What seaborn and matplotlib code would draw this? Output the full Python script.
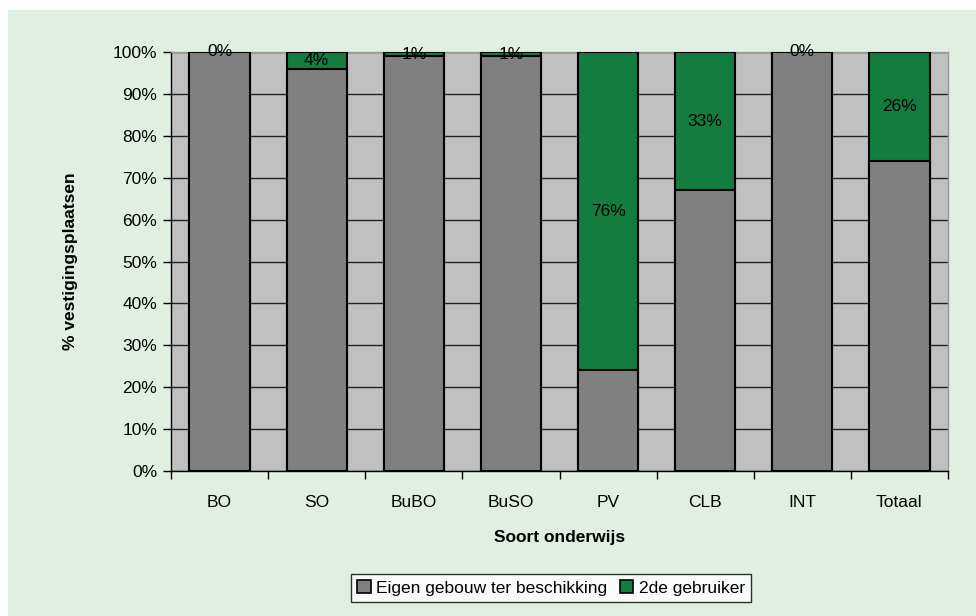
import matplotlib
matplotlib.use("Agg")
import matplotlib.pyplot as plt
from matplotlib.patches import Rectangle, Patch
from matplotlib.ticker import FixedLocator, PercentFormatter
import seaborn as sns
import pandas as pd
import numpy as np

categories = ["BO", "SO", "BuBO", "BuSO", "PV", "CLB", "INT", "Totaal"]
eigen_gebouw = [100, 96, 99, 99, 24, 67, 100, 74]
tweede_gebruiker = [0, 4, 1, 1, 76, 33, 0, 26]

series_names = ["Eigen gebouw ter beschikking", "2de gebruiker"]
grey = "#808080"
green = "#137c3e"
panel = "#e1efe3"

sns.set_theme(style="white")
plt.rcParams["font.family"] = ["Liberation Sans Narrow", "Liberation Sans", "DejaVu Sans"]
plt.rcParams["text.color"] = "black"
plt.rcParams["axes.labelcolor"] = "black"
plt.rcParams["xtick.color"] = "black"
plt.rcParams["ytick.color"] = "black"

df = pd.DataFrame({
    "soort": categories,
    "eigen": eigen_gebouw,
    "tweede": tweede_gebruiker,
})
df["totaal"] = df["eigen"] + df["tweede"]

fig = plt.figure(figsize=(9.76, 6.16), dpi=100, facecolor="white")
fig.patches.append(Rectangle((8 / 976, 0), 1, 1 - 10 / 616, transform=fig.transFigure,
                             facecolor=panel, edgecolor="none", zorder=-10))

ax = fig.add_axes([171 / 976, 1 - 471 / 616, (948 - 171) / 976, (471 - 52) / 616])
ax.set_zorder(1)
ax.set_facecolor("#c0c0c0")

# stacked bars: full-height green first, grey share drawn over it
sns.barplot(data=df, x="soort", y="totaal", color=green, saturation=1, width=0.62,
            edgecolor="black", linewidth=1.5, ax=ax, zorder=3)
sns.barplot(data=df, x="soort", y="eigen", color=grey, saturation=1, width=0.62,
            edgecolor="black", linewidth=1.5, ax=ax, zorder=4)

fs = 12.5

# value labels in the middle of the green segments
for i, (own, second) in enumerate(zip(df["eigen"], df["tweede"])):
    ax.text(i, own + second / 2, f"{second}%", ha="center", va="center",
            fontsize=fs, color="black", zorder=6)

ax.set_ylim(0, 100)
ax.set_xlim(-0.5, len(categories) - 0.5)
ax.yaxis.set_major_locator(FixedLocator(np.arange(0, 101, 10)))
ax.yaxis.set_major_formatter(PercentFormatter(decimals=0))
ax.grid(axis="y", color="#222222", linewidth=1.0, zorder=1)
ax.set_axisbelow(True)

ax.xaxis.set_minor_locator(FixedLocator(np.arange(-0.5, len(categories), 1)))
ax.tick_params(axis="x", which="major", length=0, pad=17, labelsize=fs)
ax.tick_params(axis="x", which="minor", length=6, width=1, color="black", direction="out",
               bottom=True)
ax.tick_params(axis="y", which="major", length=6, width=1, color="black", direction="out",
               left=True, labelsize=fs, pad=4)

for side in ["top", "right"]:
    ax.spines[side].set_color("#999999")
    ax.spines[side].set_linewidth(1.0)
for side in ["left", "bottom"]:
    ax.spines[side].set_color("black")
    ax.spines[side].set_linewidth(1.0)

ax.set_xlabel("Soort onderwijs", fontsize=fs, fontweight="bold", labelpad=15)
ax.set_ylabel("% vestigingsplaatsen", fontsize=fs, fontweight="bold", labelpad=25)

handles = [Patch(facecolor=grey, edgecolor="black", linewidth=1.2),
           Patch(facecolor=green, edgecolor="black", linewidth=1.2)]
leg = fig.legend(handles, series_names, loc="center", bbox_to_anchor=(551 / 976, 1 - 588 / 616),
                 ncol=2, frameon=True, fancybox=False, fontsize=fs, handlelength=0.8,
                 handleheight=0.8, handletextpad=0.3, columnspacing=0.7, borderpad=0.35,
                 borderaxespad=0.2)
leg.get_frame().set_edgecolor("black")
leg.get_frame().set_linewidth(1.0)
leg.get_frame().set_facecolor("white")

fig.savefig("out.png", dpi=100, facecolor="white")
